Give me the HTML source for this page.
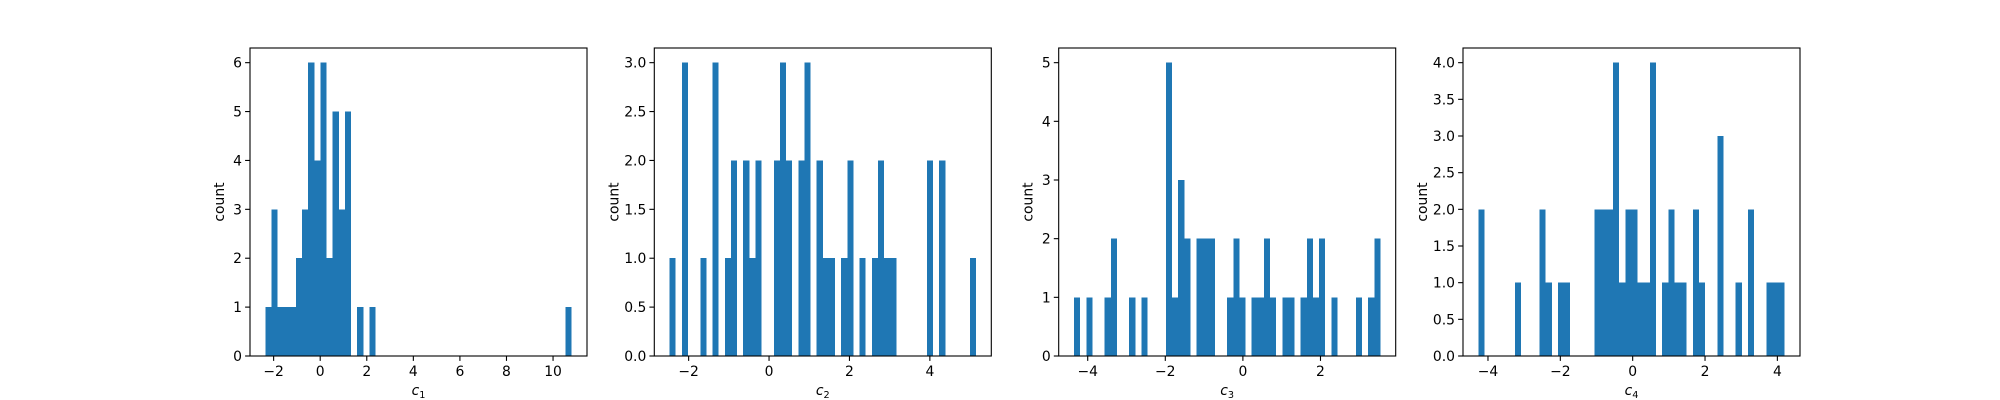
<!DOCTYPE html>
<html><head><meta charset="utf-8"><style>
body{margin:0;background:#fff}
svg{display:block}
text{font-family:"DejaVu Sans","Liberation Sans",sans-serif;font-size:13.9px;fill:#000}
</style></head><body>
<svg id="fig" width="2000" height="400" viewBox="0 0 2000 400" xmlns="http://www.w3.org/2000/svg"></svg>
<script>
const counts1=[1,3,1,1,1,2,3,6,4,6,2,5,3,5,0,1,0,1,0,0,0,0,0,0,0,0,0,0,0,0,0,0,0,0,0,0,0,0,0,0,0,0,0,0,0,0,0,0,0,1];
const counts2=[1,0,3,0,0,1,0,3,0,1,2,0,2,1,2,0,0,2,3,2,0,2,3,0,2,1,1,0,1,2,0,1,0,1,2,1,1,0,0,0,0,0,2,0,2,0,0,0,0,1];
const counts3=[1,0,1,0,0,1,2,0,0,1,0,1,0,0,0,5,1,3,2,0,2,2,2,0,0,1,2,1,0,1,1,2,1,0,1,1,0,1,2,1,2,0,1,0,0,0,1,0,1,2];
const counts4=[2,0,0,0,0,0,1,0,0,0,2,1,0,1,1,0,0,0,0,2,2,2,4,1,2,2,1,1,4,0,1,2,1,1,0,2,1,0,0,3,0,0,1,0,2,0,0,1,1,1];
const binRanges=[[-2.357,10.80],[-2.473,5.147],[-4.353,3.544],[-4.267,4.202]];
const xTicks=[[-2,0,2,4,6,8,10],[-2,0,2,4],[-4,-2,0,2],[-4,-2,0,2,4]];
const yTicks=[[0,1,2,3,4,5,6],[0,0.5,1,1.5,2,2.5,3],[0,1,2,3,4,5],[0,0.5,1,1.5,2,2.5,3,3.5,4]];
const yDecimals=[0,1,0,1];
const xNames=["1","2","3","4"];
const allCounts=[counts1,counts2,counts3,counts4];
const NS="http://www.w3.org/2000/svg";
const svg=document.getElementById('fig');
function mk(tag,attrs,parent){const e=document.createElementNS(NS,tag);for(const k in attrs)e.setAttribute(k,attrs[k]);(parent||svg).appendChild(e);return e;}
const lefts=[250,654.3,1058.7,1463];const W=337,T=48,B=356,H=B-T;
allCounts.forEach((counts,p)=>{
  const g=mk('g',{});
  
  
  const L=lefts[p];
  const [lo,hi]=binRanges[p];const span=hi-lo;
  const x0=lo-0.05*span,x1=hi+0.05*span;
  const ymax=Math.max(...counts)*1.05;
  const sx=v=>L+(v-x0)/(x1-x0)*W;
  const sy=v=>B-v/ymax*H;
  const bw=span/counts.length;
  counts.forEach((c,i)=>{
    if(c<=0)return;
    const a=sx(lo+i*bw),b=sx(lo+(i+1)*bw);
    const r=mk('rect',{x:a,y:sy(c),width:b-a,height:sy(0)-sy(c),fill:'#1f77b4','shape-rendering':'crispEdges'},g);
    
    
  });
  const f=mk('rect',{x:L,y:T,width:W,height:H,fill:'none',stroke:'#000','stroke-width':1.1},g);
  
  
  xTicks[p].forEach(t=>{
    const x=sx(t);
    mk('line',{x1:x,x2:x,y1:B,y2:B+4.9,stroke:'#000','stroke-width':1.1},g);
    const tx=mk('text',{x:x,y:B+20,'text-anchor':'middle'},g);
    tx.textContent=(t<0?'\u2212':'')+Math.abs(t);
    
    
  });
  yTicks[p].forEach(t=>{
    const y=sy(t);
    mk('line',{x1:L-4.9,x2:L,y1:y,y2:y,stroke:'#000','stroke-width':1.1},g);
    const tx=mk('text',{x:L-8,y:y+5,'text-anchor':'end'},g);
    tx.textContent=t.toFixed(yDecimals[p]);
    
    
  });
  const xl=mk('text',{x:L+W/2,y:395,'text-anchor':'middle','font-style':'italic'},g);
  xl.innerHTML='c<tspan font-size="9.7px" dy="3" font-style="normal">'+xNames[p]+'</tspan>';
  
  
  const ylx=L-(yDecimals[p]?36:26);
  const yl=mk('text',{x:ylx,y:(T+B)/2,'text-anchor':'middle',transform:'rotate(-90 '+ylx+' '+(T+B)/2+')'},g);
  yl.textContent='count';
  
  
});
</script>
</body></html>
